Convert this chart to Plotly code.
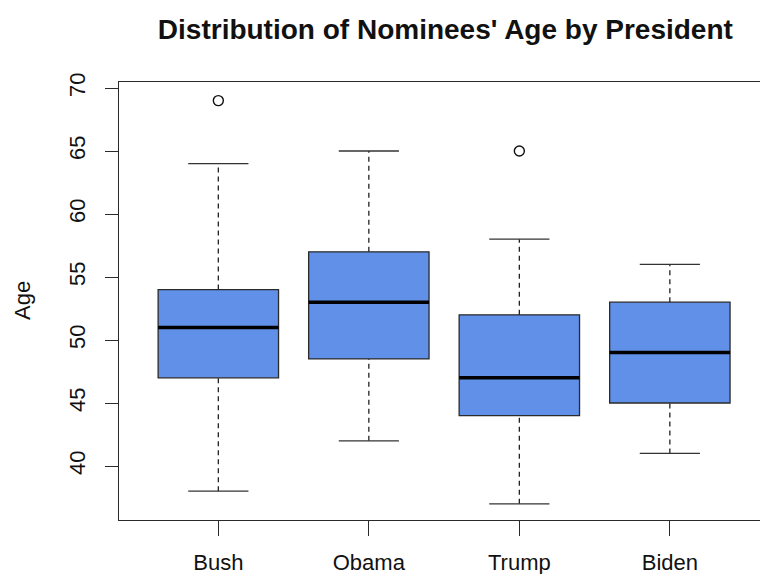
import plotly.graph_objects as go

# ---- data ----
presidents = ["Bush", "Obama", "Trump", "Biden"]
whisker_low = [38, 42, 37, 41]
q1_vals = [47, 48.5, 44, 45]
median_vals = [51, 53, 47, 49]
q3_vals = [54, 57, 52, 53]
whisker_high = [64, 65, 58, 56]
outliers = [[69], [], [65], []]
y_ticks = [40, 45, 50, 55, 60, 65, 70]

positions = list(range(1, len(presidents) + 1))

FILL = "#6090E8"
LINE = "#2a2a2a"
FONT = "Liberation Sans, Arial, Helvetica, sans-serif"
TXT = "#111111"
XRANGE = [0.34, 4.599]

fig = go.Figure()

# box bodies
for p, a, m, b in zip(positions, q1_vals, median_vals, q3_vals):
    fig.add_trace(go.Box(
        x=[p], q1=[a], median=[m], q3=[b], lowerfence=[a], upperfence=[b],
        width=0.8, whiskerwidth=0, fillcolor=FILL,
        line=dict(color=LINE, width=1.3), hoverinfo="skip",
    ))

# dashed whiskers
wx, wy = [], []
for p, lo, a, b, hi in zip(positions, whisker_low, q1_vals, q3_vals, whisker_high):
    wx += [p, p, None, p, p, None]
    wy += [lo, a, None, b, hi, None]
fig.add_trace(go.Scatter(x=wx, y=wy, mode="lines",
                         line=dict(color="#222222", width=1.3, dash="5px,4px"),
                         hoverinfo="skip"))

# whisker caps
cx, cy = [], []
cap = 0.2
for p, lo, hi in zip(positions, whisker_low, whisker_high):
    cx += [p - cap, p + cap, None, p - cap, p + cap, None]
    cy += [lo, lo, None, hi, hi, None]
fig.add_trace(go.Scatter(x=cx, y=cy, mode="lines",
                         line=dict(color="#333333", width=1.3),
                         hoverinfo="skip"))

# medians (thick)
mx, my = [], []
for p, m in zip(positions, median_vals):
    mx += [p - 0.4, p + 0.4, None]
    my += [m, m, None]
fig.add_trace(go.Scatter(x=mx, y=my, mode="lines",
                         line=dict(color="#000000", width=3.5),
                         hoverinfo="skip"))

# outliers
ox, oy = [], []
for p, outs in zip(positions, outliers):
    for v in outs:
        ox.append(p)
        oy.append(v)
fig.add_trace(go.Scatter(x=ox, y=oy, mode="markers",
                         marker=dict(symbol="circle-open", size=10,
                                     color="#111111", line=dict(width=1.4)),
                         hoverinfo="skip"))

fig.update_layout(
    width=760, height=574,
    margin=dict(l=119, r=0, t=82, b=54),
    paper_bgcolor="white", plot_bgcolor="white",
    showlegend=False,
    font=dict(family=FONT, color=TXT),
    title=dict(text="<b>Distribution of Nominees' Age by President</b>",
               font=dict(size=28, family=FONT, color=TXT),
               xref="container", x=0.586, xanchor="center",
               yref="container", y=1 - 29 / 574, yanchor="middle"),
    xaxis=dict(range=XRANGE, tickvals=positions, ticktext=presidents,
               showline=True, mirror=True, linecolor=LINE, linewidth=1.3,
               ticks="outside", ticklen=15, tickwidth=1.3, tickcolor=LINE,
               showgrid=False, zeroline=False, automargin=False,
               tickfont=dict(size=22, family=FONT, color=TXT),
               ticklabelstandoff=7),
    yaxis=dict(range=[35.714, 70.476], tickvals=y_ticks,
               showline=True, mirror=False, linecolor=LINE, linewidth=1.3,
               ticks="outside", ticklen=13, tickwidth=1.3, tickcolor=LINE,
               showgrid=False, zeroline=False, automargin=False,
               tickangle=-90,
               tickfont=dict(size=22, family=FONT, color=TXT),
               ticklabelstandoff=11),
    annotations=[dict(text="Age", xref="paper", yref="paper",
                      x=(22 - 119) / 641, y=0.5, xanchor="center",
                      yanchor="middle", textangle=-90, showarrow=False,
                      font=dict(size=22, family=FONT, color=TXT))],
)

fig.write_html("out.html")
